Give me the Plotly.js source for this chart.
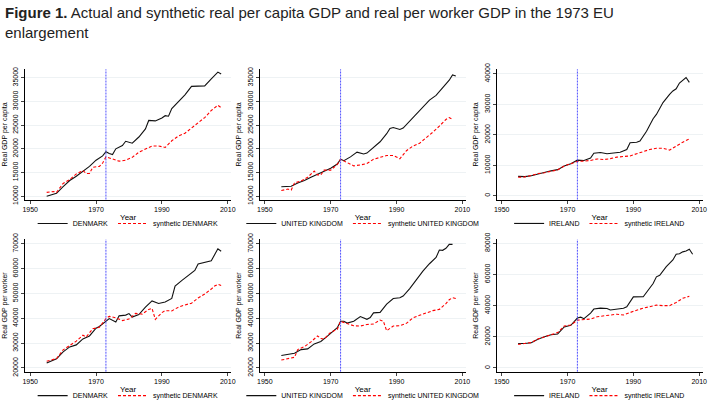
<!DOCTYPE html>
<html>
<head>
<meta charset="utf-8">
<script src="https://cdn.plot.ly/plotly-3.0.1.min.js"></script>
<style>body{margin:0;background:#fff}#chart{width:722px;height:420px}</style>
</head>
<body>
<div id="chart"></div>
<script>
  // per capita, Denmark
  const dkPcYears = [1955,1957,1958,1960,1962,1964,1966,1968,1970,1972,1973,1974,1975,1976,1978,1979,1981,1983,1985,1986,1988,1990,1991,1992,1993,1995,1997,1999,2001,2003,2005,2007,2008];
  const dkPc = [10000,10400,10600,12000,13300,14200,15300,16300,17600,18500,19400,19000,18800,20000,20700,21600,21200,22500,24200,26000,25900,26500,27000,26900,28500,30000,31400,33200,33300,33300,34800,36200,35800];
  const dkPcSynYears = [1955,1957,1958,1960,1962,1964,1966,1967,1968,1969,1971,1972,1973,1975,1977,1979,1981,1983,1985,1987,1989,1991,1993,1995,1997,1999,2001,2003,2005,2007,2008];
  const dkPcSyn = [10800,11000,10800,12700,13500,14700,15400,14800,14800,16100,16300,17000,18300,17900,17400,17600,18200,19300,20000,20600,20600,20300,21700,22700,23300,24400,25500,26600,28100,29200,28700];

  // per capita, United Kingdom
  const ukPcYears = [1955,1957,1958,1960,1962,1964,1966,1968,1970,1972,1973,1974,1976,1978,1980,1981,1983,1985,1987,1988,1989,1991,1992,1994,1996,1998,2000,2002,2004,2006,2007,2008];
  const ukPc = [12000,12100,12100,12800,13300,14000,14600,15300,15900,16800,17800,17500,18300,19300,18900,19100,20200,21500,23200,24300,24500,24100,24400,25900,27300,28800,30300,31300,32900,34500,35600,35400];
  const ukPcSynYears = [1955,1957,1958,1959,1961,1963,1965,1966,1967,1968,1970,1972,1973,1975,1977,1979,1981,1983,1985,1987,1989,1991,1993,1995,1997,1999,2001,2003,2005,2006,2007];
  const ukPcSyn = [11200,11500,11300,12800,13200,14000,15300,14500,14500,15500,15500,16700,17800,17100,16400,16600,16900,17800,18200,18600,18600,17900,19600,20600,21200,22300,23500,24800,26200,26600,26200];

  // per capita, Ireland
  const iePcYears = [1955,1957,1959,1961,1963,1965,1967,1969,1971,1973,1975,1977,1978,1980,1982,1984,1986,1988,1989,1991,1992,1994,1996,1997,1999,2001,2002,2003,2004,2006,2007];
  const iePc = [6400,6300,6600,7200,7600,8200,8600,9800,10500,11700,11600,12400,14000,14200,13800,14100,14300,15200,17400,17600,18000,21200,25300,26700,30600,33300,34400,35100,37000,38800,37200];
  const iePcSynYears = [1955,1957,1959,1961,1963,1965,1967,1969,1971,1973,1975,1977,1979,1981,1983,1985,1987,1989,1991,1993,1995,1997,1999,2001,2003,2005,2007];
  const iePcSyn = [6100,6200,6700,7300,7600,8100,8500,9800,10600,11300,11400,11600,12100,11900,12200,12700,12900,13100,13800,14500,15200,15600,15600,15000,16400,17600,18700];

  // per worker, Denmark
  const dkPwYears = [1955,1957,1958,1960,1962,1964,1966,1968,1970,1971,1973,1974,1976,1977,1979,1980,1981,1983,1985,1986,1987,1989,1991,1993,1994,1996,1998,2000,2001,2003,2005,2007,2008];
  const dkPw = [22000,23300,23700,26500,28500,29300,31700,32900,36000,36700,38600,39900,38500,41000,41300,41900,40500,41500,44500,45900,47000,46000,46600,48000,53000,55200,57300,59300,61900,62600,63200,68000,67000];
  const dkPwSynYears = [1955,1957,1958,1960,1962,1964,1966,1967,1969,1971,1973,1974,1976,1978,1980,1982,1984,1986,1987,1988,1990,1991,1993,1995,1997,1999,2001,2003,2005,2006,2007,2008];
  const dkPwSyn = [22700,23500,23800,27300,29000,30800,33200,32500,35800,36400,39900,40800,40200,39100,39700,42000,41700,43600,44000,39600,42300,43100,43000,44500,45400,46100,48200,49800,51800,53000,53700,53200];

  // per worker, United Kingdom
  const ukPwYears = [1955,1957,1959,1961,1963,1965,1967,1969,1971,1972,1973,1974,1975,1977,1979,1981,1982,1983,1985,1987,1989,1991,1992,1994,1996,1998,2000,2002,2003,2004,2005,2006,2007];
  const ukPw = [25000,25300,25900,27400,27700,29700,30700,32800,35000,36200,38800,38800,38100,38800,40700,39600,40300,42200,42400,45700,48000,48300,49000,52000,55500,59000,62000,64500,67500,67400,68200,69800,69800];
  const ukPwSynYears = [1955,1957,1958,1959,1960,1962,1964,1966,1967,1968,1970,1972,1973,1975,1977,1979,1981,1983,1985,1986,1987,1989,1991,1993,1995,1997,1999,2001,2003,2005,2006,2007,2008];
  const ukPwSyn = [23200,23800,24300,24300,27400,28600,30500,32900,31900,31600,34400,35600,38800,38000,37000,36900,37500,37700,39300,38800,35000,36900,37000,38000,40200,41200,42200,43100,43600,45900,47500,48300,48000];

  // per worker, Ireland
  const iePwYears = [1955,1957,1959,1961,1963,1965,1967,1969,1971,1973,1974,1975,1977,1978,1980,1982,1983,1985,1987,1988,1990,1993,1995,1996,1997,1998,2000,2002,2003,2004,2005,2006,2007,2008];
  const iePw = [15700,15700,16200,18400,20000,21300,21800,26300,27400,32000,32600,31600,35200,37800,38400,38200,37200,37800,38300,39300,45600,45700,51000,54200,58500,59500,65000,69300,73000,73300,74500,75000,76200,73000];
  const iePwSynYears = [1955,1957,1959,1961,1963,1965,1967,1969,1971,1973,1975,1977,1979,1981,1983,1985,1987,1989,1991,1993,1995,1997,1999,2001,2003,2005,2007];
  const iePwSyn = [15100,15700,16300,18600,20000,21400,22700,26900,27600,30700,31000,31400,32900,33400,33600,34500,34000,35800,37100,38400,39300,40300,40000,40000,42000,44700,46000];

  const treatYear = 1973;

  const panels = [
    {name: "DENMARK", x: dkPcYears, y: dkPc, sx: dkPcSynYears, sy: dkPcSyn, ytitle: "Real GDP per capita", range: [9300, 36800], dtick: 5000},
    {name: "UNITED KINGDOM", x: ukPcYears, y: ukPc, sx: ukPcSynYears, sy: ukPcSyn, ytitle: "Real GDP per capita", range: [9300, 36800], dtick: 5000},
    {name: "IRELAND", x: iePcYears, y: iePc, sx: iePcSynYears, sy: iePcSyn, ytitle: "Real GDP per capita", range: [-1200, 41500], dtick: 10000},
    {name: "DENMARK", x: dkPwYears, y: dkPw, sx: dkPwSynYears, sy: dkPwSyn, ytitle: "Real GDP per worker", range: [18500, 71800], dtick: 10000},
    {name: "UNITED KINGDOM", x: ukPwYears, y: ukPw, sx: ukPwSynYears, sy: ukPwSyn, ytitle: "Real GDP per worker", range: [18500, 71800], dtick: 10000},
    {name: "IRELAND", x: iePwYears, y: iePw, sx: iePwSynYears, sy: iePwSyn, ytitle: "Real GDP per worker", range: [-2400, 82500], dtick: 20000},
  ];

  const xDomains = [[0.035, 0.32], [0.36, 0.645], [0.688, 0.973]];
  const yDomains = [[0.525, 0.835], [0.115, 0.43]];
  const legendY = [0.468, 0.058];

  const data = [];
  const layout = {
    width: 722, height: 420,
    margin: {l: 0, r: 0, t: 0, b: 0},
    paper_bgcolor: "#fff", plot_bgcolor: "#fff",
    font: {family: "Liberation Sans, Arial, sans-serif", color: "#000", size: 7},
    shapes: [],
    annotations: [{
      xref: "paper", yref: "paper", x: 0.004, y: 0.995, xanchor: "left", yanchor: "top", align: "left",
      showarrow: false, font: {size: 15, color: "#222", family: "Liberation Sans, Arial, sans-serif"},
      text: "<b>Figure 1.</b> Actual and synthetic real per capita GDP and real per worker GDP in the 1973 EU<br>enlargement"
    }],
  };

  panels.forEach((p, i) => {
    const n = i + 1;
    const xa = n === 1 ? "x" : "x" + n, ya = n === 1 ? "y" : "y" + n;
    const lg = n === 1 ? "legend" : "legend" + n;
    const row = Math.floor(i / 3), col = i % 3;
    data.push({type: "scatter", mode: "lines", x: p.x, y: p.y, name: p.name, xaxis: xa, yaxis: ya, legend: lg,
      line: {color: "#111", width: 1.1}});
    data.push({type: "scatter", mode: "lines", x: p.sx, y: p.sy, name: "synthetic " + p.name, xaxis: xa, yaxis: ya, legend: lg,
      line: {color: "#f00", width: 1.1, dash: "3px,2px"}});
    layout[n === 1 ? "xaxis" : "xaxis" + n] = {
      domain: xDomains[col], anchor: ya, range: [1948.5, 2011], tickvals: [1950, 1970, 1990, 2010],
      showline: true, linecolor: "#000", linewidth: 1, ticks: "outside", ticklen: 3, showgrid: false, zeroline: false,
      tickfont: {size: 7}, title: {text: "Year", font: {size: 8}, standoff: 2}
    };
    layout[n === 1 ? "yaxis" : "yaxis" + n] = {
      domain: yDomains[row], anchor: xa, range: p.range, dtick: p.dtick, tick0: 0,
      showline: true, linecolor: "#000", linewidth: 1, ticks: "outside", ticklen: 3,
      showgrid: true, gridcolor: "#eef2f4", zeroline: false, tickangle: -90, tickformat: "d",
      tickfont: {size: 7}, title: {text: p.ytitle, font: {size: 7}, standoff: 4}
    };
    layout[lg] = {
      orientation: "h", x: (xDomains[col][0] + xDomains[col][1]) / 2, xanchor: "center",
      y: legendY[row], yanchor: "middle", font: {size: 7}, bgcolor: "rgba(0,0,0,0)"
    };
    layout.shapes.push({type: "line", xref: xa, yref: ya + " domain", x0: treatYear, x1: treatYear, y0: 0, y1: 1,
      line: {color: "#5050ff", width: 1, dash: "2px,1px"}});
  });

  Plotly.newPlot("chart", data, layout, {staticPlot: true});
</script>
</body>
</html>
